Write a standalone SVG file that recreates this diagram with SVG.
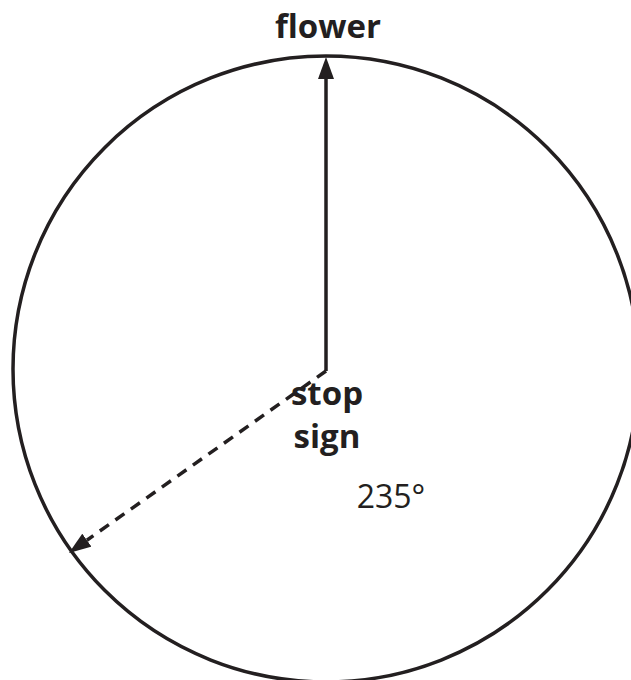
<svg xmlns="http://www.w3.org/2000/svg" width="631" height="680" viewBox="0 0 631 680">
  <style>
    .lbl { font-family: "Open Sans", "Liberation Sans", sans-serif; fill: #231f20; text-anchor: middle; }
    .bold { font-weight: bold; font-size: 33px; }
    .reg { font-size: 32px; }
    .edge { stroke: #231f20; stroke-width: 3.5; fill: none; }
  </style>
  <defs>
    <marker id="head" viewBox="0 0 22 16" refX="0" refY="8" markerWidth="22" markerHeight="16" markerUnits="userSpaceOnUse" orient="auto">
      <path d="M0,0 L22,8 L0,16 z" fill="#231f20"/>
    </marker>
  </defs>
  <rect width="631" height="680" fill="#ffffff"/>
  <g id="circle">
    <circle cx="326" cy="369" r="313" fill="none" stroke="#231f20" stroke-width="3.5"/>
  </g>
  <g id="connectors">
    <path class="edge" d="M326,371 L326,79" marker-end="url(#head)"/>
    <path class="edge" d="M326,371 L86.9,540.2" stroke-dasharray="11 8" marker-end="url(#head)"/>
  </g>
  <g id="flower">
    <text class="lbl bold" x="328" y="38">flower</text>
  </g>
  <g id="stop-sign">
    <text class="lbl bold" x="327" y="405">stop</text>
    <text class="lbl bold" x="327" y="448">sign</text>
  </g>
  <g id="angle">
    <text class="lbl reg" x="391" y="508">235°</text>
  </g>
</svg>
